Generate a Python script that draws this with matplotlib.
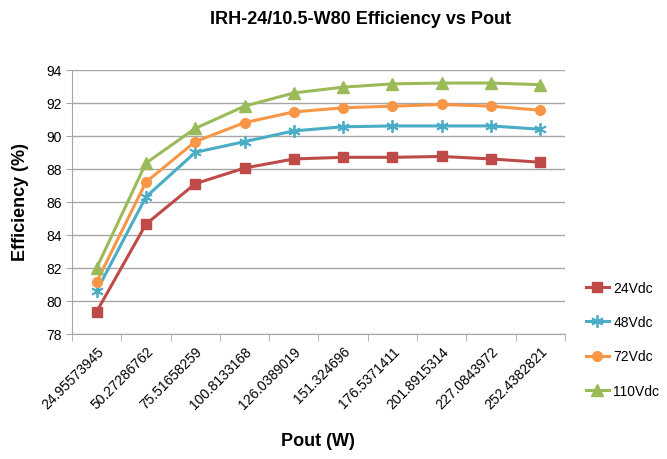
import numpy as np
import matplotlib.pyplot as plt

plt.rcParams['font.family'] = ['Liberation Sans Narrow', 'Liberation Sans', 'DejaVu Sans']

# Pout categories (text as shown on the x axis)
pout_labels = ["24.95573945", "50.27286762", "75.51658259", "100.8133168", "126.0389019",
               "151.324696", "176.5371411", "201.8915314", "227.0843972", "252.4382821"]

eff_24v = [79.35, 84.65, 87.1, 88.05, 88.6, 88.7, 88.7, 88.75, 88.6, 88.4]
eff_48v = [80.6, 86.3, 89.0, 89.65, 90.3, 90.55, 90.6, 90.6, 90.6, 90.4]
eff_72v = [81.15, 87.2, 89.65, 90.8, 91.45, 91.7, 91.8, 91.9, 91.8, 91.55]
eff_110v = [82.0, 88.35, 90.45, 91.8, 92.6, 92.95, 93.15, 93.2, 93.2, 93.1]

series_names = ["24Vdc", "48Vdc", "72Vdc", "110Vdc"]
series_colors = ["#BE4B48", "#4BACC6", "#F79646", "#9BBB59"]

fig = plt.figure(figsize=(6.67, 4.6), dpi=100)
ax = fig.add_axes([0.108, 0.272, 0.739, 0.574])

x = np.arange(len(pout_labels))
ax.plot(x, eff_24v, color=series_colors[0], lw=2.2, marker='s', ms=7, label=series_names[0])
ax.plot(x, eff_48v, color=series_colors[1], lw=2.2, marker=(6, 2, 0), ms=9, mew=1.3,
        label=series_names[1])
ax.plot(x, eff_72v, color=series_colors[2], lw=2.2, marker='o', ms=7, label=series_names[2])
ax.plot(x, eff_110v, color=series_colors[3], lw=2.2, marker='^', ms=8, label=series_names[3])

ax.set_xlim(-0.5, len(pout_labels) - 0.5)
ax.set_ylim(78, 94)
ax.set_yticks(np.arange(78, 95, 2))
ax.yaxis.grid(True, color='#A6A6A6', lw=1)
ax.set_axisbelow(True)

ax.set_xticks(x)
ax.set_xticklabels(pout_labels, rotation=45, ha='right', rotation_mode='anchor', fontsize=10)
ax.set_xticks(np.arange(-0.5, len(pout_labels), 1), minor=True)
ax.tick_params(axis='x', which='major', length=0, pad=7)
ax.tick_params(axis='x', which='minor', length=5, color='#A6A6A6')
ax.tick_params(axis='y', length=4, color='#A6A6A6', labelsize=10)

for s in ['top', 'right']:
    ax.spines[s].set_visible(False)
for s in ['left', 'bottom']:
    ax.spines[s].set_color('#A6A6A6')

fig.text(0.54, 0.958, "IRH-24/10.5-W80 Efficiency vs Pout", ha='center', va='center',
         fontsize=13, fontweight='bold')
fig.text(0.477, 0.04, "Pout (W)", ha='center', va='center', fontsize=13, fontweight='bold')
fig.text(0.03, 0.56, "Efficiency (%)", ha='center', va='center', rotation=90,
         fontsize=13, fontweight='bold')

fig.legend(loc='center left', bbox_to_anchor=(0.878, 0.26), frameon=False, fontsize=10,
           labelspacing=1.45, handlelength=1.7, handletextpad=0.3, borderpad=0,
           borderaxespad=0)

fig.savefig("out.png", dpi=100)
